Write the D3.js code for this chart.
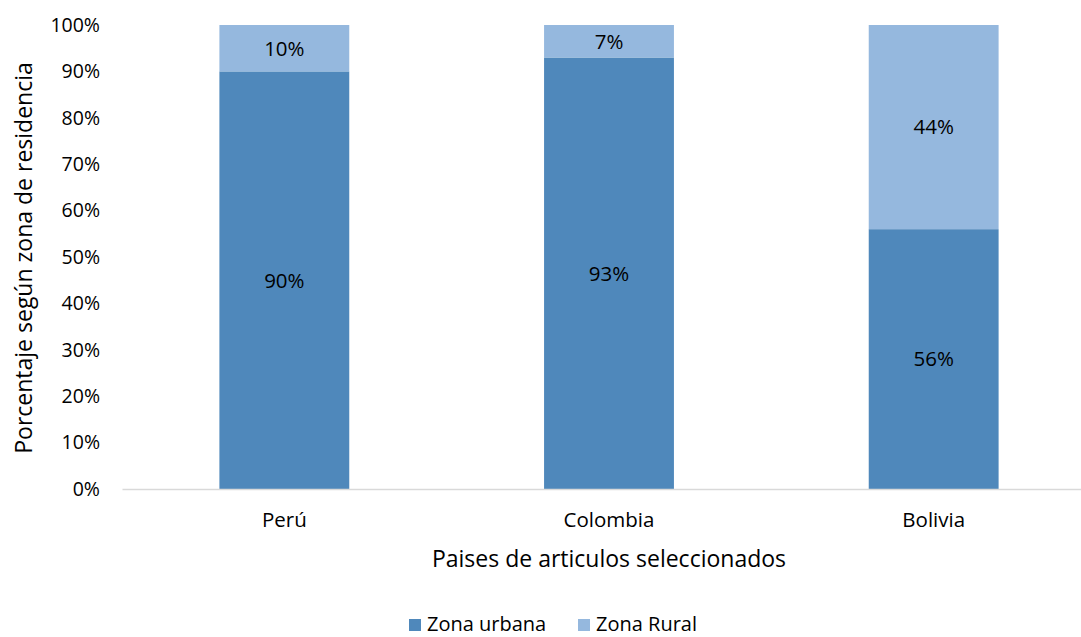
<!DOCTYPE html>
<html>
<head>
<meta charset="utf-8">
<script src="https://cdn.jsdelivr.net/npm/d3@7"></script>
<style>
  html, body { margin: 0; padding: 0; background: #fff; }
  svg { display: block; }
  text { font-family: "Open Sans", sans-serif; fill: #000; }
</style>
</head>
<body>
<svg id="chart" width="1081" height="637"></svg>
<script>
// Share of population by area of residence, per country
const countries = ["Perú", "Colombia", "Bolivia"];
const urbana = [90, 93, 56];
const rural = [10, 7, 44];
const seriesNames = ["Zona urbana", "Zona Rural"];
const seriesColors = ["#4F88BB", "#95B8DE"];
const yTicks = [0, 10, 20, 30, 40, 50, 60, 70, 80, 90, 100];

const FONT = '"Open Sans", sans-serif';
const svg = d3.select("#chart");
const W = 1081, H = 637;
const margin = { left: 122, right: -15, top: 25, bottom: 148 };

const x = d3.scaleBand()
  .domain(countries)
  .range([margin.left, W - margin.right])
  .paddingInner(0.6)
  .paddingOuter(0.3);

const y = d3.scaleLinear()
  .domain([0, 100])
  .range([H - margin.bottom, margin.top]);

const rows = countries.map((c, i) => ({ country: c, urbana: urbana[i], rural: rural[i] }));
const stack = d3.stack().keys(["urbana", "rural"]);
const layers = stack(rows);

// Stacked bars with their value labels
const g = svg.append("g");
layers.forEach((layer, li) => {
  g.selectAll(null)
    .data(layer)
    .join("rect")
    .attr("x", d => x(d.data.country))
    .attr("width", x.bandwidth())
    .attr("y", d => y(d[1]))
    .attr("height", d => y(d[0]) - y(d[1]))
    .attr("fill", seriesColors[li]);

  g.selectAll(null)
    .data(layer)
    .join("text")
    .attr("x", d => x(d.data.country) + x.bandwidth() / 2)
    .attr("y", d => (y(d[0]) + y(d[1])) / 2)
    .attr("dy", "0.36em")
    .attr("text-anchor", "middle")
    .attr("font-size", 20.5)
    .text(d => (d[1] - d[0]) + "%");
});

// Y axis (labels only)
const yAxis = d3.axisLeft(y)
  .tickValues(yTicks)
  .tickFormat(d => d + "%")
  .tickSize(0)
  .tickPadding(22);
const yg = svg.append("g")
  .attr("transform", `translate(${margin.left},0)`)
  .call(yAxis);
yg.select(".domain").remove();
yg.selectAll("text").attr("font-size", 19.5).style("font-family", FONT).attr("fill", "#000");

// X axis
const xAxis = d3.axisBottom(x).tickSize(0).tickPadding(23);
const xg = svg.append("g")
  .attr("transform", `translate(0,${y(0)})`)
  .call(xAxis);
xg.select(".domain").attr("stroke", "#D9D9D9").attr("stroke-width", 1.5);
xg.selectAll("text").attr("font-size", 20.5).style("font-family", FONT).attr("fill", "#000");

// Axis titles
svg.append("text")
  .attr("x", 609)
  .attr("y", 567)
  .attr("text-anchor", "middle")
  .attr("font-size", 23)
  .text("Paises de articulos seleccionados");

svg.append("text")
  .attr("transform", "translate(32,258) rotate(-90)")
  .attr("text-anchor", "middle")
  .attr("font-size", 23)
  .text("Porcentaje según zona de residencia");

// Legend
const legend = svg.append("g").attr("transform", "translate(409,619)");
const legendOffsets = [0, 169];
seriesNames.forEach((name, i) => {
  const lg = legend.append("g").attr("transform", `translate(${legendOffsets[i]},0)`);
  lg.append("rect").attr("width", 12).attr("height", 12).attr("fill", seriesColors[i]);
  lg.append("text")
    .attr("x", 18)
    .attr("y", 12)
    .attr("font-size", 20)
    .text(name);
});
</script>
</body>
</html>
